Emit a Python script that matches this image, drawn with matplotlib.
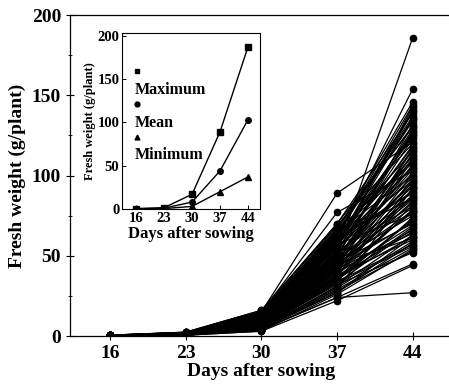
import matplotlib
matplotlib.use("Agg")
from matplotlib import pyplot as plt
from matplotlib.ticker import MultipleLocator

plt.rcParams["font.family"] = ["Liberation Serif", "DejaVu Serif"]
plt.rcParams["font.weight"] = "bold"

days = [16, 23, 30, 37, 44]

# fresh weight per plant (g) at each harvest, one entry per plant
w16 = [0.3, 0.4, 0.3, 0.2, 0.4, 0.5, 0.3, 0.3, 0.4, 0.2, 0.3, 0.4, 0.5, 0.3, 0.2, 0.4, 0.3, 0.3, 0.4, 0.2,
       0.3, 0.5, 0.2, 0.3, 0.4, 0.2, 0.3, 0.2, 0.4, 0.2, 0.3, 0.2, 0.3, 0.2, 0.2, 0.3, 0.2, 0.3, 0.2, 0.2,
       0.2, 0.1, 0.3, 0.2, 0.2, 0.1, 0.1, 0.2, 0.1, 0.1, 0.1, 0.4, 0.3, 0.3, 0.2, 0.2, 0.2, 0.3, 0.4, 0.4,
       0.4, 0.3, 0.4, 0.2, 0.3, 0.4, 0.2, 0.5, 0.2, 0.3, 0.2, 0.3, 0.2, 0.4, 0.2, 0.3, 0.2, 0.4, 0.2, 0.3,
       0.1, 0.2, 0.2, 0.3, 0.1, 0.2, 0.1, 0.2, 0.1, 0.2, 0.1, 0.1, 0.5, 0.2, 0.4, 0.3, 0.1, 0.4, 0.2, 0.2]
w23 = [1.6, 2.0, 2.2, 1.5, 1.8, 2.4, 1.4, 1.7, 2.1, 1.2, 1.5, 1.7, 2.3, 1.4, 1.1, 1.9, 1.3, 1.4, 2.0, 1.1,
       1.5, 2.2, 1.0, 1.4, 1.7, 0.9, 1.3, 1.1, 1.8, 1.0, 1.2, 1.1, 1.4, 0.8, 1.0, 1.2, 0.8, 1.1, 0.9, 0.8,
       0.9, 0.7, 1.2, 0.7, 0.8, 0.7, 0.6, 0.8, 0.6, 0.5, 0.6, 1.5, 1.2, 1.1, 0.9, 1.0, 0.7, 1.3, 1.6, 1.8,
       1.7, 1.6, 2.0, 1.2, 1.4, 1.9, 1.1, 2.2, 1.0, 1.7, 1.0, 1.6, 1.3, 2.0, 0.9, 1.4, 0.9, 1.8, 1.1, 1.4,
       0.8, 1.3, 0.9, 1.5, 0.6, 1.1, 0.8, 1.0, 0.6, 0.9, 0.7, 0.5, 2.4, 1.0, 1.9, 1.3, 0.6, 1.7, 1.1, 0.9]
w30 = [12, 14, 15, 11, 13, 16, 10, 12, 14, 9, 11, 12, 15, 10, 8, 13, 9, 10, 14, 8,
       11, 15, 7, 10, 12, 6, 9, 8, 13, 7, 9, 8, 10, 6, 7, 9, 5, 8, 7, 6,
       7, 5, 9, 5, 6, 5, 4, 6, 4, 3, 4, 11, 9, 8, 6, 7, 5, 10, 12, 13,
       12, 11, 14, 9, 10, 13, 8, 15, 7, 12, 7, 11, 9, 14, 6, 10, 6, 13, 8, 10,
       5, 9, 6, 11, 4, 8, 5, 7, 4, 6, 5, 3, 16, 7, 13, 9, 4, 12, 8, 6]
w37 = [52, 60, 66, 55, 62, 70, 58, 64, 68, 50, 57, 61, 89, 54, 47, 63, 52, 49, 66, 45,
       58, 77, 42, 55, 60, 38, 51, 46, 62, 40, 48, 44, 53, 36, 41, 47, 35, 43, 39, 33,
       37, 31, 45, 30, 34, 29, 28, 32, 24, 22, 24, 56, 48, 42, 36, 40, 27, 50, 59, 65,
       63, 58, 67, 49, 56, 61, 53, 69, 46, 59, 43, 57, 50, 65, 41, 55, 37, 60, 44, 52,
       34, 48, 39, 57, 31, 46, 35, 42, 27, 38, 33, 26, 70, 44, 64, 51, 29, 62, 45, 36]
w44 = [186, 154, 146, 143, 141, 139, 136, 134, 131, 128, 126, 124, 121, 119, 117, 115, 113, 111, 109, 107,
       105, 103, 101, 99, 97, 95, 93, 91, 89, 87, 85, 83, 81, 79, 77, 75, 73, 71, 69, 67,
       65, 63, 61, 59, 57, 55, 53, 52, 45, 44, 27, 118, 96, 84, 72, 66, 58, 102, 125, 137,
       144, 140, 135, 132, 129, 127, 123, 120, 116, 112, 110, 106, 104, 100, 98, 94, 92, 90, 88, 86,
       82, 80, 78, 76, 74, 70, 68, 64, 62, 60, 56, 54, 130, 114, 108, 96, 92, 86, 78, 62]

# inset summary
inset_max = [0.5, 1.5, 17, 89, 187]
inset_mean = [0.3, 1.0, 8, 44, 103]
inset_min = [0.1, 0.5, 3, 20, 37]

fig = plt.figure(figsize=(4.49, 3.86), dpi=100)
ax = fig.add_axes([0.156, 0.1295, 0.85, 0.8315])

for plant in zip(w16, w23, w30, w37, w44):
    ax.plot(days, plant, color="black", lw=0.9, marker="o", ms=4.5)

ax.set_xlim(12.3, 47.6)
ax.set_ylim(0, 200)
ax.set_xticks(days)
ax.set_yticks([0, 50, 100, 150, 200])
ax.yaxis.set_minor_locator(MultipleLocator(25))
ax.tick_params(axis="both", which="major", direction="inout", length=6, width=0.8, labelsize=14)
ax.tick_params(axis="y", which="minor", direction="inout", length=3, width=0.6)
ax.spines["right"].set_visible(False)
for s in ["left", "bottom", "top"]:
    ax.spines[s].set_linewidth(0.9)
ax.set_xlabel("Days after sowing", fontsize=14, fontweight="bold", labelpad=1)
ax.set_ylabel("Fresh weight (g/plant)", fontsize=14, fontweight="bold", labelpad=4)

ins = fig.add_axes([0.272, 0.4585, 0.307, 0.456])
ins.plot(days, inset_max, color="black", lw=1.0, marker="s", ms=4)
ins.plot(days, inset_mean, color="black", lw=1.0, marker="o", ms=4)
ins.plot(days, inset_min, color="black", lw=1.0, marker="^", ms=4)
ins.set_xlim(12.5, 47)
ins.set_ylim(0, 203)
ins.set_xticks(days)
ins.set_yticks([0, 50, 100, 150, 200])
ins.tick_params(axis="both", direction="in", length=3, width=0.7, labelsize=10.5, pad=2)
for s in ins.spines.values():
    s.set_linewidth(0.8)
ins.set_xlabel("Days after sowing", fontsize=12, fontweight="bold", labelpad=1)
ins.set_ylabel("Fresh weight (g/plant)", fontsize=9, fontweight="bold", labelpad=1)

# hand-placed legend: marker above each label
legend_rows = [("s", "Maximum", 0.784, 0.676), ("o", "Mean", 0.597, 0.489), ("^", "Minimum", 0.409, 0.307)]
for mk, label, ym, yt in legend_rows:
    ins.plot([0.11], [ym], transform=ins.transAxes, marker=mk, color="black", ms=3.5, ls="none")
    ins.text(0.09, yt, label, transform=ins.transAxes, fontsize=11.5, fontweight="bold", va="center")

fig.savefig("out.png", dpi=100)
